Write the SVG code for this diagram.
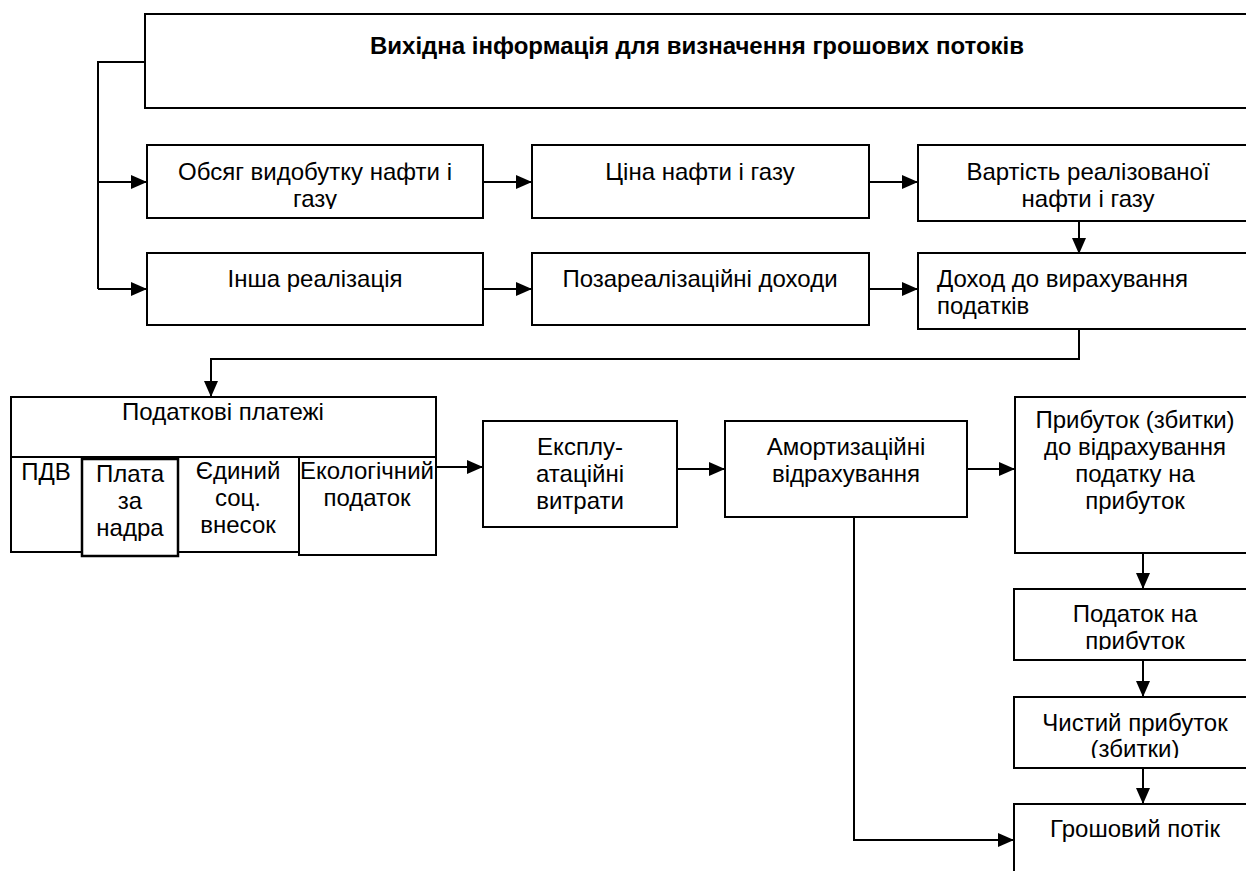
<svg xmlns="http://www.w3.org/2000/svg" width="1246" height="871" viewBox="0 0 1246 871">
<style>
  .box{fill:#fff;stroke:#000;stroke-width:2}
  .thick{fill:#fff;stroke:#000;stroke-width:2.5}
  .ln{fill:none;stroke:#000;stroke-width:2}
  .t{font-family:"Liberation Sans",Arial,sans-serif;font-size:24px;fill:#000}
  .c{text-anchor:middle}
  .b{font-weight:bold}
</style>
<defs>
  <marker id="ah" viewBox="0 0 16 14" refX="16" refY="7" markerWidth="16" markerHeight="14" markerUnits="userSpaceOnUse" orient="auto">
    <path d="M0,0 L16,7 L0,14 z" fill="#000"/>
  </marker>
  <clipPath id="clip1"><rect x="147" y="145" width="336" height="64"/></clipPath>
  <clipPath id="clipTax"><rect x="1014" y="589" width="241" height="61"/></clipPath>
  <clipPath id="clipNet"><rect x="1014" y="697" width="241" height="61"/></clipPath>
</defs>

<g id="connectors">
  <polyline class="ln" points="145,62 98,62 98,289"/>
  <line class="ln" x1="98" y1="182" x2="147" y2="182" marker-end="url(#ah)"/>
  <line class="ln" x1="98" y1="289" x2="147" y2="289" marker-end="url(#ah)"/>
  <line class="ln" x1="483" y1="182" x2="532" y2="182" marker-end="url(#ah)"/>
  <line class="ln" x1="869" y1="182" x2="918" y2="182" marker-end="url(#ah)"/>
  <line class="ln" x1="483" y1="289" x2="532" y2="289" marker-end="url(#ah)"/>
  <line class="ln" x1="869" y1="289" x2="918" y2="289" marker-end="url(#ah)"/>
  <line class="ln" x1="1079" y1="221" x2="1079" y2="254" marker-end="url(#ah)"/>
  <polyline class="ln" points="1079,329 1079,359 211,359 211,397" marker-end="url(#ah)"/>
  <line class="ln" x1="436" y1="467" x2="483" y2="467" marker-end="url(#ah)"/>
  <line class="ln" x1="677" y1="469" x2="725" y2="469" marker-end="url(#ah)"/>
  <line class="ln" x1="967" y1="469" x2="1015" y2="469" marker-end="url(#ah)"/>
  <line class="ln" x1="1143" y1="553" x2="1143" y2="589" marker-end="url(#ah)"/>
  <line class="ln" x1="1143" y1="660" x2="1143" y2="697" marker-end="url(#ah)"/>
  <line class="ln" x1="1143" y1="768" x2="1143" y2="804" marker-end="url(#ah)"/>
  <polyline class="ln" points="854,517 854,840 1014,840" marker-end="url(#ah)"/>
</g>

<g id="n-source">
  <rect class="box" x="145" y="14" width="1115" height="94"/>
  <text class="t c b" x="697" y="54">Вихідна інформація для визначення грошових потоків</text>
</g>

<g id="n-volume">
  <rect class="box" x="147" y="145" width="336" height="73"/>
  <g clip-path="url(#clip1)">
    <text class="t c" x="315" y="180">Обсяг видобутку нафти і</text>
    <text class="t c" x="315" y="207">газу</text>
  </g>
</g>

<g id="n-price">
  <rect class="box" x="532" y="145" width="337" height="73"/>
  <text class="t c" x="700" y="180">Ціна нафти і газу</text>
</g>

<g id="n-value">
  <rect class="box" x="918" y="145" width="340" height="76"/>
  <text class="t c" x="1088" y="180">Вартість реалізованої</text>
  <text class="t c" x="1088" y="207">нафти і газу</text>
</g>

<g id="n-other">
  <rect class="box" x="147" y="253" width="336" height="72"/>
  <text class="t c" x="315" y="287">Інша реалізація</text>
</g>

<g id="n-nonop">
  <rect class="box" x="532" y="253" width="337" height="72"/>
  <text class="t c" x="700" y="287">Позареалізаційні доходи</text>
</g>

<g id="n-income">
  <rect class="box" x="918" y="253" width="340" height="76"/>
  <text class="t" x="937" y="287">Доход до вирахування</text>
  <text class="t" x="937" y="314">податків</text>
</g>

<g id="n-taxes">
  <rect class="box" x="11" y="397" width="425" height="155"/>
  <line class="ln" x1="11" y1="457" x2="436" y2="457"/>
  <text class="t c" x="223" y="420">Податкові платежі</text>
  <line class="ln" x1="178" y1="457" x2="178" y2="552"/>
  <rect class="thick" x="82" y="459" width="96" height="97"/>
  <rect class="box" x="299" y="457" width="137" height="98"/>
  <text class="t c" x="46" y="480">ПДВ</text>
  <text class="t c" x="130" y="482">Плата</text>
  <text class="t c" x="130" y="509">за</text>
  <text class="t c" x="130" y="536">надра</text>
  <text class="t c" x="238" y="479">Єдиний</text>
  <text class="t c" x="238" y="506">соц.</text>
  <text class="t c" x="238" y="533">внесок</text>
  <text class="t c" x="367" y="479">Екологічний</text>
  <text class="t c" x="367" y="506">податок</text>
</g>

<g id="n-opex">
  <rect class="box" x="483" y="421" width="194" height="106"/>
  <text class="t c" x="580" y="455">Експлу-</text>
  <text class="t c" x="580" y="482">атаційні</text>
  <text class="t c" x="580" y="509">витрати</text>
</g>

<g id="n-amort">
  <rect class="box" x="725" y="421" width="242" height="96"/>
  <text class="t c" x="846" y="455">Амортизаційні</text>
  <text class="t c" x="846" y="482">відрахування</text>
</g>

<g id="n-profit">
  <rect class="box" x="1015" y="397" width="245" height="156"/>
  <text class="t c" x="1135" y="428">Прибуток (збитки)</text>
  <text class="t c" x="1135" y="455">до відрахування</text>
  <text class="t c" x="1135" y="482">податку на</text>
  <text class="t c" x="1135" y="509">прибуток</text>
</g>

<g id="n-tax">
  <rect class="box" x="1014" y="589" width="246" height="71"/>
  <g clip-path="url(#clipTax)">
    <text class="t c" x="1135" y="622">Податок на</text>
    <text class="t c" x="1135" y="649">прибуток</text>
  </g>
</g>

<g id="n-net">
  <rect class="box" x="1014" y="697" width="246" height="71"/>
  <g clip-path="url(#clipNet)">
    <text class="t c" x="1135" y="731">Чистий прибуток</text>
    <text class="t c" x="1135" y="757">(збитки)</text>
  </g>
</g>

<g id="n-cash">
  <rect class="box" x="1014" y="804" width="246" height="80"/>
  <text class="t c" x="1135" y="837">Грошовий потік</text>
</g>
</svg>
